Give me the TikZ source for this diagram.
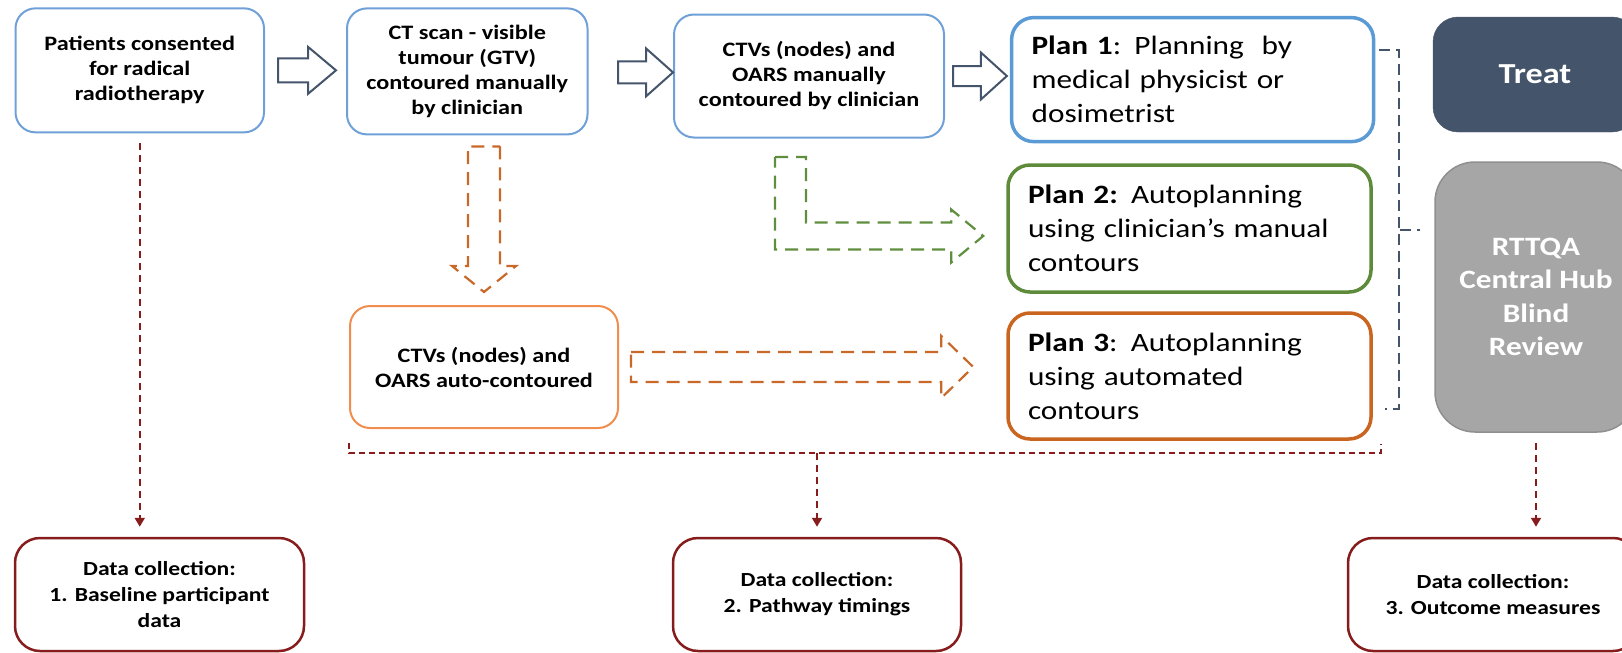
\documentclass[tikz,border=0pt]{standalone}
\usepackage{fontspec}
\setmainfont{Carlito}[FakeStretch=1.18]
\usetikzlibrary{calc,arrows.meta}

\definecolor{paleblue}{HTML}{6FA0D8}
\definecolor{planblue}{HTML}{5B9BD5}
\definecolor{slate}{HTML}{44546A}
\definecolor{plangreen}{HTML}{5D8B3A}
\definecolor{planorange}{HTML}{C9651E}
\definecolor{lightorange}{HTML}{EF8E4E}
\definecolor{dashorange}{HTML}{C8692A}
\definecolor{dashgreen}{HTML}{5F8F3E}
\definecolor{darkred}{HTML}{861C1C}
\definecolor{hubgrey}{HTML}{A6A6A6}
\definecolor{hubedge}{HTML}{8F8F8F}

% horizontal hollow block arrow: style, tail, tip, body half-height, head half-height, head length
\newcommand\hblock[6]{%
  \draw[#1] let \p1=(#2), \p2=(#3) in
    (\x1,\y1+#4) -- (\x2-#6,\y1+#4) -- (\x2-#6,\y1+#5) -- (\x2,\y1)
    -- (\x2-#6,\y1-#5) -- (\x2-#6,\y1-#4) -- (\x1,\y1-#4) -- cycle;}
% downward hollow block arrow: style, tail, tip, body half-width, head half-width, head length
\newcommand\vblock[6]{%
  \draw[#1] let \p1=(#2), \p2=(#3) in
    (\x1+#4,\y1) -- (\x1+#4,\y2+#6) -- (\x1+#5,\y2+#6) -- (\x1,\y2)
    -- (\x1-#5,\y2+#6) -- (\x1-#4,\y2+#6) -- (\x1-#4,\y1) -- cycle;}

\tikzset{
  boxtext/.style={font=\bfseries\fontsize{20.5}{25}\selectfont, align=center, inner sep=0pt},
  bluebox/.style={boxtext, draw=paleblue, line width=2pt, rounded corners=20pt, fill=white},
  orangebox/.style={boxtext, draw=lightorange, line width=2pt, rounded corners=20pt, fill=white},
  planbox/.style={draw=#1, line width=3.5pt, rounded corners=22pt, fill=white,
    font=\fontsize{26.5}{34}\selectfont, align=left, inner xsep=20pt, inner ysep=0pt},
  databox/.style={boxtext, font=\bfseries\fontsize{20}{26}\selectfont,
    draw=darkred, line width=2.5pt, rounded corners=25pt, fill=white},
  solidblock/.style={draw=slate, line width=2pt, fill=white, line join=miter},
  dashblock/.style={draw=#1, line width=2.2pt, dash pattern=on 13pt off 8pt},
  reddash/.style={draw=darkred, line width=2pt, dash pattern=on 7pt off 5pt},
  redarrow/.style={reddash, -{Triangle[width=10pt,length=9pt]}, shorten <=10pt, shorten >=10pt},
  bracketdash/.style={draw=slate, line width=2pt, dash pattern=on 11pt off 6pt},
}

\begin{document}
\begin{tikzpicture}[x=1pt,y=-1pt]
\useasboundingbox (0,0) rectangle (1622,653);
\clip (0,0) rectangle (1622,653);

% first row: manual pathway
\node[bluebox, minimum width=248.5pt, minimum height=124pt] (A) at (139.75,70.35)
  {Patients consented\\for radical\\radiotherapy};
\node[bluebox, minimum width=240.5pt, minimum height=126pt] (B) at (467.25,71.4)
  {CT scan - visible\\tumour (GTV)\\contoured manually\\by clinician};
\node[bluebox, minimum width=270pt, minimum height=123pt] (C) at (809,76)
  {CTVs (nodes) and\\OARS manually\\contoured by clinician};

% the three plans
\node[planbox=planblue, text width=322pt, minimum height=124pt] (P1) at (1192.6,79.6)
  {\textbf{Plan 1}: Planning\ \ by\\medical physicist or\\dosimetrist};
\node[planbox=plangreen, text width=323pt, minimum height=127pt] (P2) at (1189.5,228.5)
  {\textbf{Plan 2:} Autoplanning\\using clinician’s manual\\contours};
\node[planbox=planorange, text width=323pt, minimum height=126pt] (P3) at (1189.5,376)
  {\textbf{Plan 3}: Autoplanning\\using automated\\contours};

% treatment and review
\node[fill=slate, draw=slate, rounded corners=25pt, minimum width=204pt, minimum height=115pt,
  text=white, font=\bfseries\fontsize{29}{35}\selectfont] (T) at (1535,74.5) {Treat};
\node[fill=hubgrey, draw=hubedge, line width=1.5pt, rounded corners=40pt, minimum width=202pt,
  minimum height=270pt, text=white, align=center, inner sep=0pt,
  font=\bfseries\fontsize{26.5}{33.3}\selectfont] (R) at (1536,297)
  {RTTQA\\Central Hub\\Blind\\Review};

% automated contouring
\node[orangebox, minimum width=268pt, minimum height=122pt] (O) at (484,367)
  {CTVs (nodes) and\\OARS auto-contoured};

% data collection points
\node[databox, minimum width=289pt, minimum height=113pt] (D1) at (159.5,594.5)
  {Data collection:\\1. Baseline participant\\data};
\node[databox, minimum width=288pt, minimum height=113pt] (D2) at (817,594.5)
  {Data collection:\\2. Pathway timings};
\node[databox, minimum width=290pt, minimum height=113pt] (D3) at (1493,594.5)
  {Data collection:\\3. Outcome measures};

% solid hollow arrows along the manual pathway
\coordinate (ab1) at ($(A.east)+(13,0)$);
\coordinate (ab2) at ($(B.west)+(-10,0)$);
\hblock{solidblock}{ab1}{ab2}{12pt}{23.5pt}{28pt}
\coordinate (bc1) at ($(B.east)+(29.5,1)$);
\coordinate (bc2) at ($(B.east -| C.west)+(0,1)$);
\hblock{solidblock}{bc1}{bc2}{11pt}{24pt}{27pt}
\coordinate (cp1) at ($(C.east)+(8,0)$);
\coordinate (cp2) at ($(C.east -| P1.west)+(-3,0)$);
\hblock{solidblock}{cp1}{cp2}{10pt}{23.5pt}{26pt}

% dashed hollow arrows to the automated branches
\coordinate (od1) at ($(O.north |- B.south)+(0,11)$);
\coordinate (od2) at ($(O.north)+(0,-13)$);
\vblock{dashblock=dashorange}{od1}{od2}{16pt}{32pt}{26pt}
\coordinate (op1) at ($(O.east)+(12,0)$);
\coordinate (op2) at ($(O.east -| P3.west)+(-33,0)$);
\hblock{dashblock=dashorange}{op1}{op2}{15pt}{31pt}{32pt}

% L-shaped dashed arrow from manual contours to Plan 2
\coordinate (gs) at ($(C.south)+(-18.5,18.5)$);
\coordinate (ge) at ($(P2.west)+(-23,7.5)$);
\draw[dashblock=dashgreen] let \p1=(gs), \p2=(ge) in
  (\x1-15.5pt,\y1) -- (\x1+15.5pt,\y1) -- (\x1+15.5pt,\y2+13.5pt) -- (\x2-32pt,\y2+13.5pt)
  -- (\x2-32pt,\y2+26.5pt) -- (\x2,\y2) -- (\x2-32pt,\y2-26.5pt) -- (\x2-32pt,\y2-13.5pt)
  -- (\x1-15.5pt,\y2-13.5pt) -- cycle;

% bracket grouping the three plans, feeding the review
\coordinate (bt) at ($(P1.north east)+(4,34.5)$);
\coordinate (bb) at ($(P3.south east)+(12,-32)$);
\draw[bracketdash] (bt) -- ++(20,0) |- (bb);
\draw[bracketdash] ($(P2.east)+(27,1.5)$) -- ++(20,0);

% data collection connectors
\draw[redarrow] (A.south) -- (A.south |- D1.north);
\coordinate (rl) at ($(O.south west)+(0,14)$);
\coordinate (rr) at ($(P3.south east)+(8,3)$);
\draw[draw=darkred, line width=2pt, dash pattern=on 6pt off 4pt]
  (rl) -- ++(0,10) coordinate (rlb) -| (rr);
\draw[redarrow, shorten <=0pt] (rlb -| D2.north) -- (D2.north);
\draw[redarrow] (R.south) -- (R.south |- D3.north);

\end{tikzpicture}
\end{document}
